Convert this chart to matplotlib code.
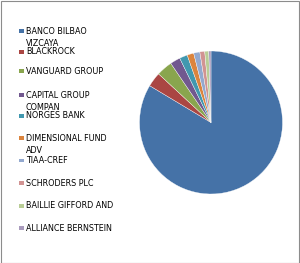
import matplotlib
matplotlib.use('Agg')
import matplotlib.pyplot as plt
from matplotlib.patches import Rectangle

# holders and share of the pie (%)
labels = ['BANCO BILBAO\nVIZCAYA', 'BLACKROCK', 'VANGUARD GROUP', 'CAPITAL GROUP\nCOMPAN',
          'NORGES BANK', 'DIMENSIONAL FUND\nADV', 'TIAA-CREF', 'SCHRODERS PLC',
          'BAILLIE GIFFORD AND', 'ALLIANCE BERNSTEIN']
shares = [83.6, 3.3, 3.6, 2.3, 1.8, 1.5, 1.4, 1.1, 0.9, 0.5]
colors = ['#4572A7', '#AA4643', '#89A54E', '#71588F', '#4198AF',
          '#DB843D', '#93A9CF', '#D19392', '#B9CD96', '#A99BBD']

W, H = 300, 263
fig = plt.figure(figsize=(W / 100, H / 100), dpi=100)
fig.patches.append(Rectangle((0.5 / W, 0.5 / H), 1 - 1.5 / W, 1 - 1.5 / H,
                             transform=fig.transFigure, fill=False,
                             edgecolor='#8c8c8c', linewidth=0.8))

# pie
cx, cy, r = 211, 122.5, 71.5
ax = fig.add_axes([(cx - r) / W, 1 - (cy + r) / H, 2 * r / W, 2 * r / H])
ax.pie(shares, colors=colors, startangle=90, counterclock=False,
       wedgeprops=dict(edgecolor='white', linewidth=0.25))
ax.set_xlim(-1, 1)
ax.set_ylim(-1, 1)
ax.set_aspect('auto')
ax.axis('off')

# legend rows (pixel y of each entry's first line)
leg_y = [31.5, 52, 71.5, 95, 116, 138.3, 160.5, 183.3, 206, 228.3]
for y, lab, c in zip(leg_y, labels, colors):
    fig.patches.append(Rectangle((19 / W, 1 - (y + 1.8) / H), 4.5 / W, 3.8 / H,
                                 transform=fig.transFigure, facecolor=c,
                                 edgecolor='none'))
    if '\n' in lab:
        fig.text(26 / W, 1 - (y - 4.2) / H, lab, fontsize=5.8, color='black',
                 va='top', ha='left', linespacing=1.45)
    else:
        fig.text(26 / W, 1 - y / H, lab, fontsize=5.8, color='black',
                 va='center', ha='left')

fig.savefig('out.png', dpi=100)
